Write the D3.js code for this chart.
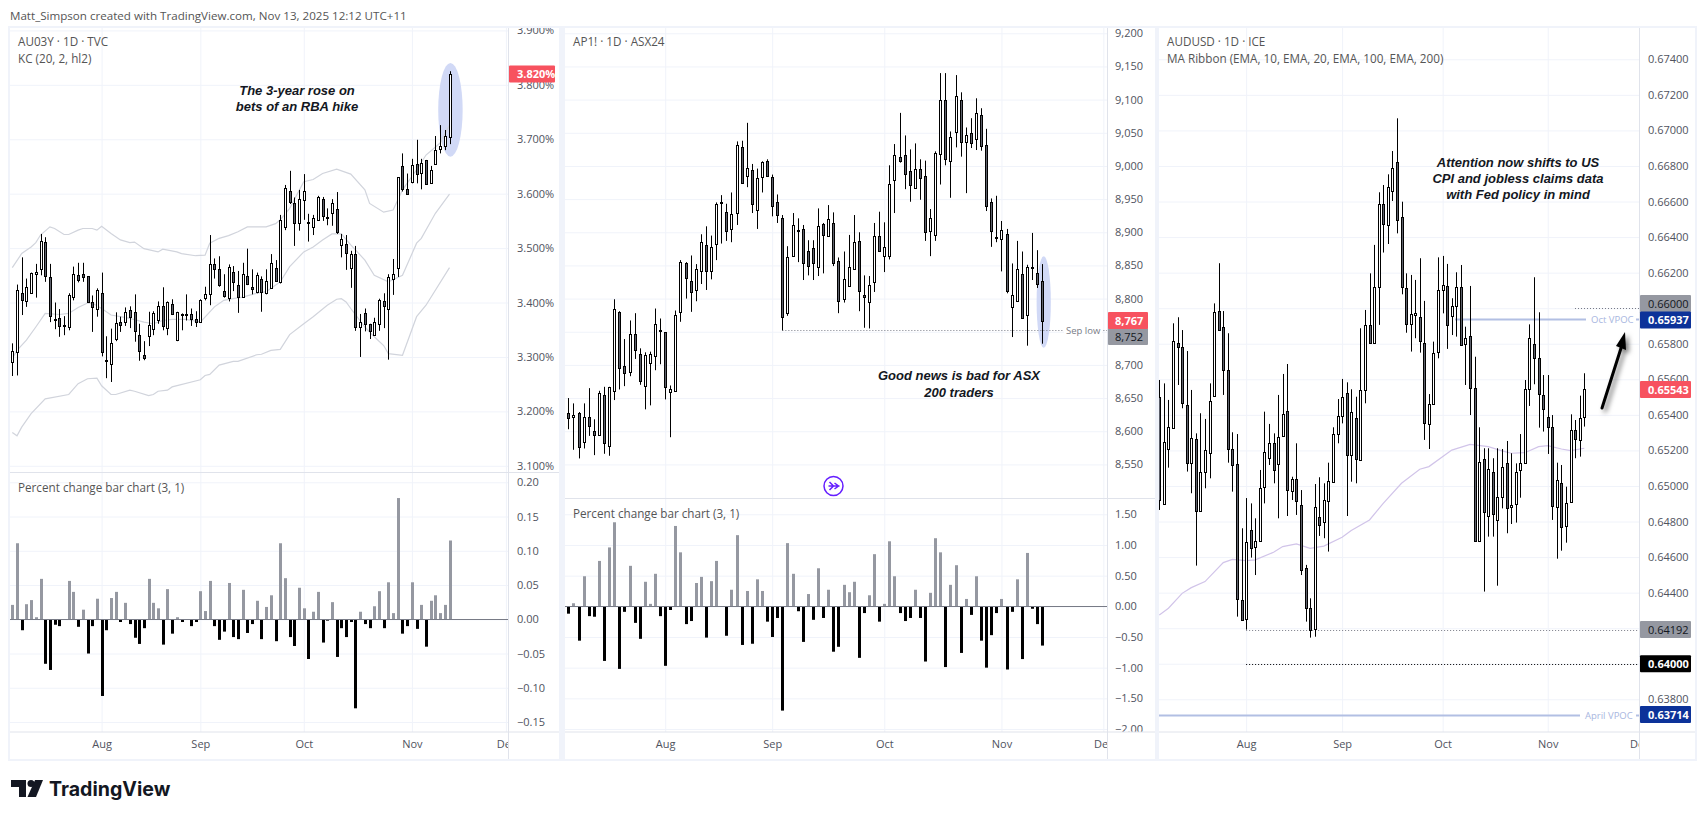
<!DOCTYPE html>
<html>
<head>
<meta charset="utf-8">
<script src="https://cdn.jsdelivr.net/npm/d3@7"></script>
<style>
  html, body { margin: 0; padding: 0; background: #fff; overflow: hidden; }
  svg { display: block; }
  text { font-family: "Open Sans", sans-serif; }
  .note { font-family: "Liberation Sans", sans-serif; font-style: italic; font-weight: bold; font-size: 13px; fill: #131722; text-anchor: middle; }
  .legend { font-size: 11.7px; fill: #555; }
  .axis text { font-size: 11px; fill: #50535e; }
  .tag { font-size: 11px; font-weight: 600; }
</style>
</head>
<body>
<div id="chart"></div>
<script>
// month gridlines, as bar number
const monthLabels = ["Aug", "Sep", "Oct", "Nov", "Dec"];
const monthBars = [19, 40, 62, 85, 105];

// AU03Y daily [open, high, low, close]
const au03yBars = [
  [3.291,3.325,3.265,3.311],[3.309,3.433,3.266,3.423],[3.418,3.483,3.377,3.406],[3.403,3.444,3.392,3.428],
  [3.418,3.455,3.418,3.455],[3.452,3.471,3.409,3.456],[3.461,3.526,3.450,3.513],[3.512,3.520,3.438,3.450],
  [3.446,3.471,3.364,3.375],[3.369,3.400,3.351,3.368],[3.372,3.388,3.337,3.357],[3.358,3.375,3.340,3.356],
  [3.355,3.417,3.349,3.413],[3.409,3.466,3.404,3.452],[3.450,3.473,3.437,3.440],[3.453,3.473,3.438,3.447],
  [3.448,3.448,3.401,3.401],[3.401,3.413,3.346,3.392],[3.388,3.426,3.374,3.423],[3.417,3.455,3.301,3.309],
  [3.295,3.338,3.261,3.293],[3.286,3.352,3.254,3.325],[3.333,3.382,3.329,3.363],[3.365,3.374,3.346,3.360],
  [3.363,3.391,3.357,3.382],[3.387,3.393,3.353,3.375],[3.382,3.415,3.328,3.348],[3.341,3.361,3.293,3.311],
  [3.304,3.329,3.294,3.299],[3.337,3.383,3.320,3.358],[3.350,3.384,3.340,3.380],[3.369,3.402,3.361,3.394],
  [3.394,3.428,3.349,3.357],[3.354,3.402,3.340,3.401],[3.398,3.406,3.377,3.379],[3.330,3.383,3.329,3.382],
  [3.378,3.380,3.349,3.379],[3.377,3.415,3.367,3.378],[3.378,3.389,3.357,3.369],[3.369,3.384,3.355,3.364],
  [3.363,3.406,3.363,3.404],[3.407,3.429,3.404,3.415],[3.415,3.524,3.395,3.470],[3.470,3.481,3.444,3.461],
  [3.461,3.485,3.429,3.431],[3.422,3.452,3.409,3.412],[3.409,3.470,3.402,3.466],[3.457,3.467,3.421,3.439],
  [3.433,3.458,3.381,3.411],[3.410,3.473,3.409,3.452],[3.448,3.499,3.432,3.433],[3.429,3.461,3.415,3.425],
  [3.419,3.455,3.417,3.450],[3.444,3.448,3.383,3.421],[3.417,3.461,3.415,3.439],[3.426,3.489,3.425,3.472],
  [3.464,3.478,3.440,3.440],[3.438,3.561,3.435,3.552],[3.539,3.616,3.533,3.610],[3.604,3.642,3.581,3.584],
  [3.582,3.593,3.504,3.545],[3.545,3.607,3.532,3.590],[3.588,3.636,3.552,3.604],[3.548,3.563,3.512,3.547],
  [3.539,3.561,3.524,3.556],[3.552,3.596,3.550,3.594],[3.591,3.594,3.550,3.559],[3.558,3.573,3.542,3.556],
  [3.564,3.590,3.541,3.582],[3.571,3.603,3.526,3.528],[3.505,3.526,3.483,3.516],[3.507,3.524,3.460,3.490],
  [3.464,3.495,3.427,3.489],[3.490,3.504,3.348,3.355],[3.356,3.379,3.300,3.365],[3.380,3.389,3.347,3.359],
  [3.360,3.361,3.333,3.347],[3.342,3.372,3.339,3.365],[3.359,3.407,3.348,3.404],[3.402,3.417,3.353,3.392],
  [3.387,3.452,3.295,3.446],[3.444,3.480,3.414,3.453],[3.463,3.630,3.447,3.630],[3.651,3.674,3.604,3.608],
  [3.608,3.637,3.599,3.599],[3.620,3.664,3.619,3.652],[3.655,3.699,3.619,3.637],[3.639,3.664,3.608,3.657],
  [3.661,3.662,3.616,3.617],[3.619,3.651,3.618,3.643],[3.654,3.706,3.654,3.680],[3.681,3.726,3.674,3.687],
  [3.688,3.717,3.680,3.706],[3.705,3.825,3.691,3.820],
];

// Keltner channel [bar, value]
const kcUpper = [[0,3.464],[2,3.490],[4,3.502],[5,3.510],[6,3.524],[8,3.539],[9,3.536],[11,3.525],[12,3.525],[14,3.533],[15,3.536],[17,3.536],[18,3.533],[19,3.540],[21,3.527],[23,3.515],[25,3.510],[26,3.511],[28,3.499],[31,3.493],[32,3.498],[35,3.493],[36,3.490],[39,3.486],[41,3.487],[42,3.509],[44,3.518],[46,3.523],[48,3.530],[50,3.539],[54,3.539],[56,3.545],[57,3.552],[59,3.573],[62,3.622],[64,3.626],[66,3.637],[69,3.645],[72,3.636],[75,3.607],[76,3.582],[79,3.566],[81,3.570],[83,3.607],[86,3.644],[88,3.671],[91,3.693],[93,3.726]];
const kcMiddle = [[0,3.297],[1,3.312],[3,3.331],[5,3.355],[7,3.380],[10,3.378],[12,3.380],[14,3.391],[16,3.399],[17,3.399],[19,3.389],[21,3.377],[23,3.374],[25,3.371],[28,3.364],[30,3.361],[32,3.367],[34,3.369],[37,3.369],[40,3.364],[43,3.392],[45,3.404],[47,3.407],[49,3.410],[52,3.417],[54,3.420],[57,3.438],[59,3.466],[62,3.493],[64,3.502],[66,3.515],[68,3.526],[70,3.526],[72,3.506],[75,3.478],[77,3.450],[80,3.438],[83,3.450],[86,3.509],[87,3.518],[90,3.564],[93,3.599]];
const kcLower = [[0,3.161],[1,3.155],[2,3.171],[4,3.196],[7,3.223],[12,3.231],[14,3.251],[16,3.260],[18,3.261],[19,3.247],[21,3.231],[22,3.231],[25,3.239],[26,3.237],[29,3.229],[30,3.231],[31,3.237],[33,3.239],[34,3.245],[40,3.258],[41,3.266],[42,3.268],[44,3.285],[47,3.292],[48,3.292],[52,3.304],[53,3.305],[55,3.312],[57,3.314],[59,3.341],[62,3.361],[64,3.374],[67,3.395],[69,3.406],[70,3.407],[71,3.401],[72,3.389],[75,3.355],[77,3.337],[79,3.321],[80,3.306],[83,3.303],[86,3.374],[88,3.395],[93,3.464]];

const au03yChange = [.021,.111,-.016,.022,.028,.003,.059,-.065,-.074,-.008,-.010,0,.056,.040,-.011,.014,-.050,-.010,.030,-.112,-.016,.031,.040,-.004,.024,-.007,-.027,-.036,-.013,.059,.024,.016,-.037,.044,-.021,.003,-.004,0,-.010,-.004,.041,.012,.056,-.010,-.030,-.018,.053,-.026,-.029,.043,-.020,-.007,.027,-.029,.018,.035,-.032,.111,.060,-.026,-.039,.046,.016,-.058,.011,.040,-.034,-.002,.025,-.055,-.013,-.026,-.004,-.130,.011,-.007,-.013,.019,.041,-.013,.054,.009,.177,-.021,-.010,.054,-.014,.021,-.040,.027,.035,.009,.021,.115];

// AP1! daily [open, high, low, close]
const ap1Bars = [
  [8628,8650,8603,8620],[8622,8642,8572,8625],[8628,8629,8559,8576],[8583,8642,8574,8621],[8622,8665,8593,8608],[8601,8618,8564,8595],
  [8595,8661,8593,8658],[8654,8667,8566,8582],[8577,8667,8563,8666],[8661,8799,8647,8785],[8780,8781,8663,8696],[8699,8739,8668,8688],
  [8689,8767,8683,8746],[8747,8778,8709,8723],[8717,8725,8670,8677],[8668,8719,8633,8715],[8703,8720,8639,8717],[8714,8785,8692,8762],
  [8752,8770,8701,8751],[8749,8749,8648,8666],[8658,8669,8591,8663],[8661,8782,8660,8776],[8780,8858,8765,8855],[8853,8855,8800,8830],
  [8827,8865,8780,8811],[8812,8852,8796,8844],[8842,8897,8822,8886],[8881,8909,8813,8842],[8842,8895,8829,8878],[8883,8945,8858,8943],
  [8945,8956,8883,8943],[8931,8943,8887,8902],[8904,8960,8885,8927],[8928,9037,8911,9031],[9028,9038,8973,8974],[8985,9065,8968,8997],
  [8994,9003,8929,8943],[8934,8996,8905,8982],[8984,9007,8960,9006],[9008,9010,8984,8985],[8984,8987,8924,8941],[8945,8957,8914,8925],
  [8922,8926,8752,8773],[8779,8879,8774,8863],[8865,8929,8865,8911],[8904,8921,8855,8903],[8905,8911,8828,8854],[8872,8888,8835,8850],
  [8876,8888,8828,8854],[8848,8936,8834,8910],[8913,8914,8838,8896],[8894,8941,8894,8920],[8914,8930,8849,8854],[8857,8862,8778,8797],
  [8799,8871,8794,8829],[8819,8896,8819,8848],[8844,8926,8844,8885],[8887,8900,8781,8811],[8806,8835,8756,8803],[8794,8834,8755,8820],
  [8826,8914,8810,8895],[8895,8931,8873,8873],[8864,8915,8840,8878],[8864,9001,8859,8973],[8979,9033,8929,9017],[9014,9080,9005,9008],
  [9016,9046,8965,8988],[8992,9025,8946,8971],[8967,9034,8967,8996],[8995,9010,8949,8981],[8985,9008,8887,8901],[8901,8935,8864,8921],
  [8896,9022,8887,9020],[9019,9140,8972,9100],[9100,9140,9001,9011],[9007,9052,8952,9043],[9050,9137,9028,9105],[9099,9111,9014,9035],
  [9037,9058,8959,9047],[9050,9072,9027,9035],[9041,9102,9024,9080],[9077,9087,9023,9030],[9032,9056,8932,8940],[8945,8951,8878,8901],
  [8893,8955,8885,8893],[8890,8917,8841,8904],[8898,8905,8808,8812],[8788,8853,8742,8806],[8797,8887,8797,8845],[8837,8871,8770,8771],
  [8775,8851,8729,8848],[8846,8899,8828,8847],[8839,8873,8816,8822],[8827,8852,8732,8767],
];

const ap1Change = [-.12,.05,-.56,.49,-.16,-.17,.74,-.89,.96,1.37,-1.02,-.09,.66,-.27,-.53,.40,.04,.53,-.16,-.97,-.06,1.31,.88,-.29,-.24,.38,.48,-.51,.41,.74,0,-.48,.27,1.16,-.63,.25,-.61,.44,.25,-.25,-.50,-.19,-1.70,1.03,.53,-.08,-.58,.20,-.22,.62,-.19,.27,-.74,-.66,.35,.23,.40,-.84,-.11,.18,.85,-.25,.04,1.06,.49,-.11,-.24,-.19,.27,-.19,-.90,.22,1.11,.88,-.99,.35,.67,-.76,.12,-.14,.49,-.56,-1.00,-.47,-.11,.12,-1.03,-.09,.44,-.86,.87,-.04,-.29,-.64];

// AUDUSD daily [open, high, low, close]
const audusdBars = [
  [.65502,.65596,.64865,.64921],[.64902,.65577,.64902,.65249],[.65212,.65484,.65103,.65334],[.65324,.65915,.65324,.65814],
  [.65802,.65949,.65568,.6578],[.6578,.65877,.65437,.65465],[.65454,.65759,.65081,.65127],[.65127,.6554,.64959,.65268],
  [.65262,.65296,.64552,.64856],[.64856,.65409,.64856,.65077],[.65077,.65377,.64987,.65201],[.65189,.65577,.65043,.6548],
  [.65502,.66027,.65502,.65977],[.65982,.66253,.65872,.65877],[.65892,.65984,.65512,.65651],[.65651,.65859,.65131,.65206],
  [.65206,.65302,.64968,.65114],[.65122,.65292,.64265,.64362],[.64357,.64762,.64242,.64246],[.64248,.64932,.64192,.64683],
  [.64751,.64902,.64597,.64647],[.64655,.64818,.64499,.64689],[.64687,.6509,.64687,.64987],[.64992,.65418,.64902,.65189],
  [.65156,.65349,.65118,.6524],[.6524,.65296,.65015,.6509],[.6512,.65512,.64818,.65274],[.65277,.6563,.65277,.65403],
  [.6542,.65686,.64831,.64974],[.64968,.65052,.64921,.65037],[.65037,.6524,.64837,.64912],[.64891,.64977,.64499,.64527],
  [.64537,.64556,.64237,.64312],[.64312,.64368,.64147,.64188],[.64192,.65011,.64152,.6488],[.64827,.65049,.64719,.64784],
  [.64796,.65015,.64706,.64921],[.64917,.65131,.64631,.65028],[.65021,.6533,.65021,.65292],[.65291,.65489,.6524,.65394],
  [.65394,.65602,.65352,.65499],[.65521,.65583,.64831,.65171],[.65171,.65544,.65024,.65414],[.65381,.65502,.65015,.6515],
  [.65144,.65887,.65144,.65538],[.65538,.6599,.65465,.65904],[.65906,.66196,.65802,.65802],[.65802,.66356,.65802,.66117],
  [.66117,.66652,.65906,.66584],[.66584,.66693,.66313,.66472],[.66472,.66753,.66361,.66684],[.66656,.66884,.66603,.66787],
  [.66821,.67068,.66421,.66494],[.66515,.66599,.66078,.66121],[.66112,.66196,.65862,.65909],[.65909,.66187,.65756,.65966],
  [.65962,.66159,.65831,.65971],[.65949,.66281,.6575,.65814],[.65802,.66041,.65259,.65352],[.65347,.65517,.65208,.65459],
  [.65459,.65812,.65459,.65746],[.65752,.66286,.65718,.66102],[.66102,.66294,.65971,.66131],[.66123,.66249,.65771,.65902],
  [.65952,.66056,.65849,.66011],[.66009,.66202,.6584,.66117],[.66117,.66243,.65789,.65789],[.65795,.65896,.65568,.65831],
  [.65842,.66125,.65399,.65549],[.65549,.65727,.64687,.64687],[.64687,.6533,.64687,.65133],[.6515,.65212,.64406,.6485],
  [.64827,.65212,.64715,.65094],[.65077,.65156,.64715,.64841],[.64812,.65212,.64439,.6494],[.6494,.65208,.64874,.65109],
  [.65131,.65253,.64734,.6488],[.64884,.65184,.64786,.64895],[.64897,.65127,.64794,.65077],[.65086,.65292,.64934,.65127],
  [.65127,.65596,.65127,.65544],[.65544,.65909,.6545,.65831],[.65797,.66174,.65572,.65716],[.65718,.65977,.65328,.65516],
  [.6551,.65624,.65306,.65431],[.6539,.65624,.6518,.65334],[.65334,.65399,.64809,.64889],[.64878,.65131,.64591,.65032],
  [.65015,.65118,.64636,.64766],[.64771,.64996,.64681,.64902],[.64908,.65403,.64908,.65313],[.65313,.65371,.65156,.65262],
  [.65255,.65508,.65165,.65381],[.65386,.65634,.65334,.65543],
];

// MA ribbon, only the slow EMA shows in this window [bar, value]
const emaSlow = [[0,.64274],[2,.64312],[5,.64396],[7,.64428],[10,.64462],[14,.64569],[16,.64587],[19,.6458],[21,.64584],[25,.64627],[27,.64659],[30,.64674],[33,.64649],[36,.64662],[40,.64711],[42,.64749],[46,.64809],[49,.64902],[53,.65015],[57,.65094],[59,.65109],[64,.65202],[68,.65234],[72,.65221],[75,.65197],[77,.65184],[80,.65187],[83,.65221],[85,.65227],[88,.65208],[90,.65199],[93,.65212]];

const au03yTicks = [3.1,3.2,3.3,3.4,3.5,3.6,3.7,3.8,3.9];
const au03yChangeTicks = [-.15,-.10,-.05,0,.05,.10,.15,.20];
const ap1Ticks = d3.range(8550, 9201, 50);
const ap1ChangeTicks = [-2,-1.5,-1,-.5,0,.5,1,1.5];
const audusdTicks = d3.range(0.638, 0.6745, 0.002);

const colors = {
  grid: "#f0f3fa", axis: "#e0e3eb", frame: "#f0f3fa", wick: "#000", down: "#5d606b", up: "#fff",
  barUp: "#9598a1", barDown: "#000", zero: "#787b86", band: "#d1d4dc", ema: "#d1c4e9", ellipse: "#d1d9f6",
  red: "#f7525f", grey: "#9598a1", navy: "#0c3299", vpoc: "#b2bfe3",
};

const svg = d3.select("#chart").append("svg").attr("width", 1705).attr("height", 819);

svg.append("text").attr("x", 10).attr("y", 20).attr("class", "legend")
  .style("font-size", "11.6px")
  .text("Matt_Simpson created with TradingView.com, Nov 13, 2025 12:12 UTC+11");

// grey frame, the white panes sit on top of it
svg.append("rect").attr("x", 8).attr("y", 26).attr("width", 1689).attr("height", 735).attr("fill", colors.frame);

const addClip = (id, x, y, w, h) => {
  svg.append("clipPath").attr("id", id).append("rect").attr("x", x).attr("y", y).attr("width", w).attr("height", h);
  return `url(#${id})`;
};

const crisp = (v) => Math.round(v) + 0.5;

const drawPane = (p) => {
  const g = svg.append("g");
  g.append("rect").attr("x", p.left).attr("y", 28).attr("width", p.right - p.left).attr("height", 731).attr("fill", "#fff");
  const clip = addClip(p.id, p.left, 28, p.axisX - p.left, 704);
  const clipAll = addClip(p.id + "-all", p.left, 28, p.right - p.left, 704);
  const clipDates = addClip(p.id + "-dates", p.left, 28, p.axisX - p.left, 731);
  const x = d3.scaleLinear().domain([0, 93]).range(p.xRange);

  // vertical grid and month labels
  const dates = g.append("g").attr("clip-path", clipDates).append("g").attr("class", "axis")
    .attr("transform", "translate(0,732)")
    .call(d3.axisBottom(x).tickValues(p.months).tickFormat((d, i) => monthLabels[i]).tickSize(-704).tickPadding(8));
  dates.select(".domain").remove();
  dates.selectAll("line").attr("stroke", colors.grid);

  const addYAxis = (scale, ticks, fmt) => {
    const axis = g.append("g").attr("clip-path", clipAll).append("g").attr("class", "axis")
      .attr("transform", `translate(${p.axisX},0)`)
      .call(d3.axisRight(scale).tickValues(ticks).tickFormat(fmt).tickSize(-(p.axisX - p.left)).tickPadding(p.labelPad));
    axis.select(".domain").remove();
    axis.selectAll("line").attr("stroke", colors.grid);
    return axis;
  };

  const y = d3.scaleLinear().domain(p.yDomain).range(p.yRange);
  addYAxis(y, p.ticks, p.fmt);

  let ySub = null;
  if (p.change) {
    ySub = d3.scaleLinear().domain(p.subDomain).range(p.subRange);
    addYAxis(ySub, p.subTicks, d3.format(".2f"));
    g.append("line").attr("x1", p.left).attr("x2", p.right).attr("y1", p.sepY + 0.5).attr("y2", p.sepY + 0.5).attr("stroke", colors.axis);
  }

  const plot = g.append("g").attr("clip-path", clip);

  // highlight ellipse goes under the candles
  if (p.ellipse) {
    const e = p.ellipse;
    plot.append("ellipse")
      .attr("cx", x(e.bar)).attr("rx", x(e.bar + e.bars) - x(e.bar))
      .attr("cy", (y(e.top) + y(e.bottom)) / 2).attr("ry", (y(e.bottom) - y(e.top)) / 2)
      .attr("fill", colors.ellipse);
  }

  const line = d3.line().x((d) => x(d[0])).y((d) => y(d[1]));
  (p.lines || []).forEach((l) => {
    plot.append("path").datum(l.data).attr("d", line).attr("fill", "none").attr("stroke", l.color).attr("stroke-width", 1.2);
  });

  (p.levels || []).forEach((l) => {
    plot.append("line")
      .attr("x1", l.fromBar === undefined ? l.fromX : x(l.fromBar)).attr("x2", l.toX)
      .attr("y1", crisp(y(l.value))).attr("y2", crisp(y(l.value)))
      .attr("stroke", l.color).attr("stroke-width", l.width)
      .attr("stroke-dasharray", l.dash || null);
  });

  // candles
  const candle = plot.selectAll("g.candle").data(p.bars).enter().append("g").attr("class", "candle");
  candle.append("line")
    .attr("x1", (d, i) => crisp(x(i))).attr("x2", (d, i) => crisp(x(i)))
    .attr("y1", (d) => y(d[1])).attr("y2", (d) => y(d[2]))
    .attr("stroke", colors.wick);
  candle.append("rect")
    .attr("x", (d, i) => crisp(x(i)) - 1).attr("width", 2)
    .attr("y", (d) => crisp(y(Math.max(d[0], d[3]))))
    .attr("height", (d) => Math.max(1, Math.round(Math.abs(y(d[0]) - y(d[3])))))
    .attr("fill", (d) => (d[3] >= d[0] ? colors.up : colors.down))
    .attr("stroke", colors.wick);

  // percent change histogram
  if (p.change) {
    plot.selectAll("rect.change").data(p.change).enter().append("rect").attr("class", "change")
      .attr("x", (d, i) => Math.round(x(i)) - 1).attr("width", 3)
      .attr("y", (d) => ySub(Math.max(d, 0)))
      .attr("height", (d) => Math.abs(ySub(d) - ySub(0)))
      .attr("fill", (d) => (d >= 0 ? colors.barUp : colors.barDown));
    plot.append("line").attr("x1", p.left).attr("x2", p.axisX)
      .attr("y1", crisp(ySub(0))).attr("y2", crisp(ySub(0))).attr("stroke", colors.zero);
  }

  // axis borders
  g.append("line").attr("x1", p.axisX + 0.5).attr("x2", p.axisX + 0.5).attr("y1", 28).attr("y2", 759).attr("stroke", colors.axis);
  g.append("line").attr("x1", p.left).attr("x2", p.right).attr("y1", 732).attr("y2", 732).attr("stroke", colors.axis);

  p.legend.forEach((t) => {
    g.append("text").attr("class", "legend").attr("x", p.left + 8).attr("y", t.y).text(t.text);
  });
  p.notes.forEach((t) => {
    g.append("text").attr("class", "note").attr("x", p.noteX).attr("y", t.y).text(t.text);
  });

  (p.labels || []).forEach((t) => {
    g.append("rect").attr("x", t.x - 2).attr("y", y(t.value) - 8).attr("width", t.w + 4).attr("height", 14).attr("fill", "#fff");
    g.append("text").attr("x", t.x).attr("y", crisp(y(t.value)) + 3.5).attr("font-size", 9.5).attr("fill", t.color).text(t.text);
  });

  // price tags on the axis
  p.tags.forEach((t) => {
    const yc = t.labelY === undefined ? y(t.value) : t.labelY;
    g.append("rect").attr("x", p.axisX + 1).attr("y", yc - 8.5).attr("width", p.tagWidth).attr("height", 17).attr("rx", 1).attr("fill", t.fill);
    g.append("text").attr("class", "tag").attr("x", p.axisX + p.labelPad).attr("y", yc + 4).attr("fill", t.ink)
      .style("font-weight", t.bold ? 700 : 400).text(t.text);
  });

  return { x, y };
};

// ticks that sit fully behind a price tag keep the gridline but lose the text
const ap1Format = (d) => (d === 8750 ? "" : d3.format(",")(d));
const audusdFormat = (d) => {
  const s = d3.format(".5f")(d);
  return ["0.66000", "0.64200", "0.64000"].includes(s) ? "" : s;
};

drawPane({
  id: "p1", left: 10, axisX: 508, right: 559, xRange: [12.3, 449.5], months: monthBars,
  yDomain: [3.1, 3.9], yRange: [465.8, 30.4], ticks: au03yTicks, fmt: (d) => d3.format(".3f")(d) + "%", labelPad: 9,
  sepY: 472, change: au03yChange, subDomain: [-.15, .20], subRange: [722, 482.3], subTicks: au03yChangeTicks,
  bars: au03yBars,
  lines: [{ data: kcUpper, color: colors.band }, { data: kcMiddle, color: colors.band }, { data: kcLower, color: colors.band }],
  ellipse: { bar: 93.2, bars: 2.6, top: 3.840, bottom: 3.668 },
  legend: [{ y: 46, text: "AU03Y · 1D · TVC" }, { y: 63, text: "KC (20, 2, hl2)" }],
  noteX: 297, notes: [{ y: 95, text: "The 3-year rose on" }, { y: 111, text: "bets of an RBA hike" }],
  tagWidth: 46,
  tags: [{ value: 3.82, text: "3.820%", fill: colors.red, ink: "#fff", bold: true }],
});

drawPane({
  id: "p2", left: 565, axisX: 1107, right: 1155, xRange: [568.4, 1042.2], months: monthBars,
  yDomain: [8550, 9200], yRange: [464.4, 33.3], ticks: ap1Ticks, fmt: ap1Format, labelPad: 8,
  sepY: 498, change: ap1Change, subDomain: [-2, 1.5], subRange: [729, 514.3], subTicks: ap1ChangeTicks,
  bars: ap1Bars,
  ellipse: { bar: 93.3, bars: 1.4, top: 8864, bottom: 8726 },
  levels: [{ value: 8752, fromBar: 42, toX: 1107, color: "#787b86", width: 1, dash: "1 2" }],
  legend: [{ y: 46, text: "AP1! · 1D · ASX24" }],
  noteX: 959, notes: [{ y: 380, text: "Good news is bad for ASX" }, { y: 397, text: "200 traders" }],
  labels: [{ x: 1066, value: 8752, w: 34, text: "Sep low", color: "#787b86" }],
  tagWidth: 40,
  tags: [
    { value: 8752, labelY: 336.5, text: "8,752", fill: colors.grey, ink: "#131722" },
    { value: 8767, labelY: 320.5, text: "8,767", fill: colors.red, ink: "#fff", bold: true },
  ],
});

drawPane({
  id: "p3", left: 1159, axisX: 1639, right: 1695, xRange: [1159.3, 1584.3], months: monthBars,
  yDomain: [0.638, 0.674], yRange: [699.3, 59.3], ticks: audusdTicks, fmt: audusdFormat, labelPad: 9,
  bars: audusdBars,
  lines: [{ data: emaSlow, color: colors.ema }],
  levels: [
    { value: 0.66, fromX: 1575, toX: 1639, color: "#787b86", width: 1, dash: "1 2" },
    { value: 0.65937, fromX: 1455, toX: 1586, color: colors.vpoc, width: 2 },
    { value: 0.65937, fromX: 1636, toX: 1639, color: colors.vpoc, width: 2 },
    { value: 0.64192, fromBar: 19, toX: 1638, color: "#787b86", width: 1, dash: "1 2" },
    { value: 0.64, fromBar: 19, toX: 1638, color: "#000", width: 1, dash: "1 2" },
    { value: 0.63714, fromX: 1159, toX: 1580, color: colors.vpoc, width: 2 },
    { value: 0.63714, fromX: 1636, toX: 1639, color: colors.vpoc, width: 2 },
  ],
  legend: [{ y: 46, text: "AUDUSD · 1D · ICE" }, { y: 63, text: "MA Ribbon (EMA, 10, EMA, 20, EMA, 100, EMA, 200)" }],
  noteX: 1518, notes: [{ y: 167, text: "Attention now shifts to US" }, { y: 183, text: "CPI and jobless claims data" }, { y: 199, text: "with Fed policy in mind" }],
  labels: [
    { x: 1591, value: 0.65937, w: 42, text: "Oct VPOC", color: "#a8b6e0" },
    { x: 1585, value: 0.63714, w: 48, text: "April VPOC", color: "#a8b6e0" },
  ],
  tagWidth: 51,
  tags: [
    { value: 0.66, labelY: 303.5, text: "0.66000", fill: colors.grey, ink: "#131722" },
    { value: 0.65937, labelY: 320, text: "0.65937", fill: colors.navy, ink: "#fff", bold: true },
    { value: 0.65543, labelY: 389.5, text: "0.65543", fill: colors.red, ink: "#fff", bold: true },
    { value: 0.64192, text: "0.64192", fill: colors.grey, ink: "#131722" },
    { value: 0.64, text: "0.64000", fill: "#000", ink: "#fff", bold: true },
    { value: 0.63714, text: "0.63714", fill: colors.navy, ink: "#fff", bold: true },
  ],
});

// sub pane titles
svg.append("text").attr("class", "legend").attr("x", 18).attr("y", 492).text("Percent change bar chart (3, 1)");
svg.append("text").attr("class", "legend").attr("x", 573).attr("y", 518).text("Percent change bar chart (3, 1)");

// hand drawn arrow on the AUDUSD pane
const defs = svg.append("defs");
const blur = defs.append("filter").attr("id", "shadow").attr("x", "-50%").attr("y", "-50%").attr("width", "200%").attr("height", "200%");
blur.append("feDropShadow").attr("dx", 3).attr("dy", 3).attr("stdDeviation", 2.5).attr("flood-color", "#000").attr("flood-opacity", 0.55);
const arrow = svg.append("g").attr("filter", "url(#shadow)");
arrow.append("line").attr("x1", 1602).attr("y1", 408).attr("x2", 1622).attr("y2", 345)
  .attr("stroke", "#000").attr("stroke-width", 3).attr("stroke-linecap", "round");
arrow.append("path").attr("d", "M1625,332 L1626,350 L1616,346 Z").attr("fill", "#000");

// jump-to-latest button
const btn = svg.append("g").attr("transform", "translate(833.5,486)").attr("fill", "none").attr("stroke", "#651fff").attr("stroke-width", 1.5);
btn.append("circle").attr("r", 9.5);
btn.append("path").attr("d", "M-4,-4 L0,0 L-4,4 M-5,0 L6,0 M1,-3 L5,0 L1,3");

// logo
const logo = svg.append("g").attr("fill", "#131722");
logo.append("path").attr("d", "M11,780 H26 V797 H19 V787 H11 Z");
logo.append("circle").attr("cx", 31).attr("cy", 783.5).attr("r", 3.5);
logo.append("path").attr("d", "M35,780 H43 L36,797 H27.5 Z");
logo.append("text").attr("x", 49).attr("y", 796).style("font-family", "Inter, sans-serif").style("font-weight", 700).style("font-size", "19.6px").text("TradingView");
</script>
</body>
</html>
